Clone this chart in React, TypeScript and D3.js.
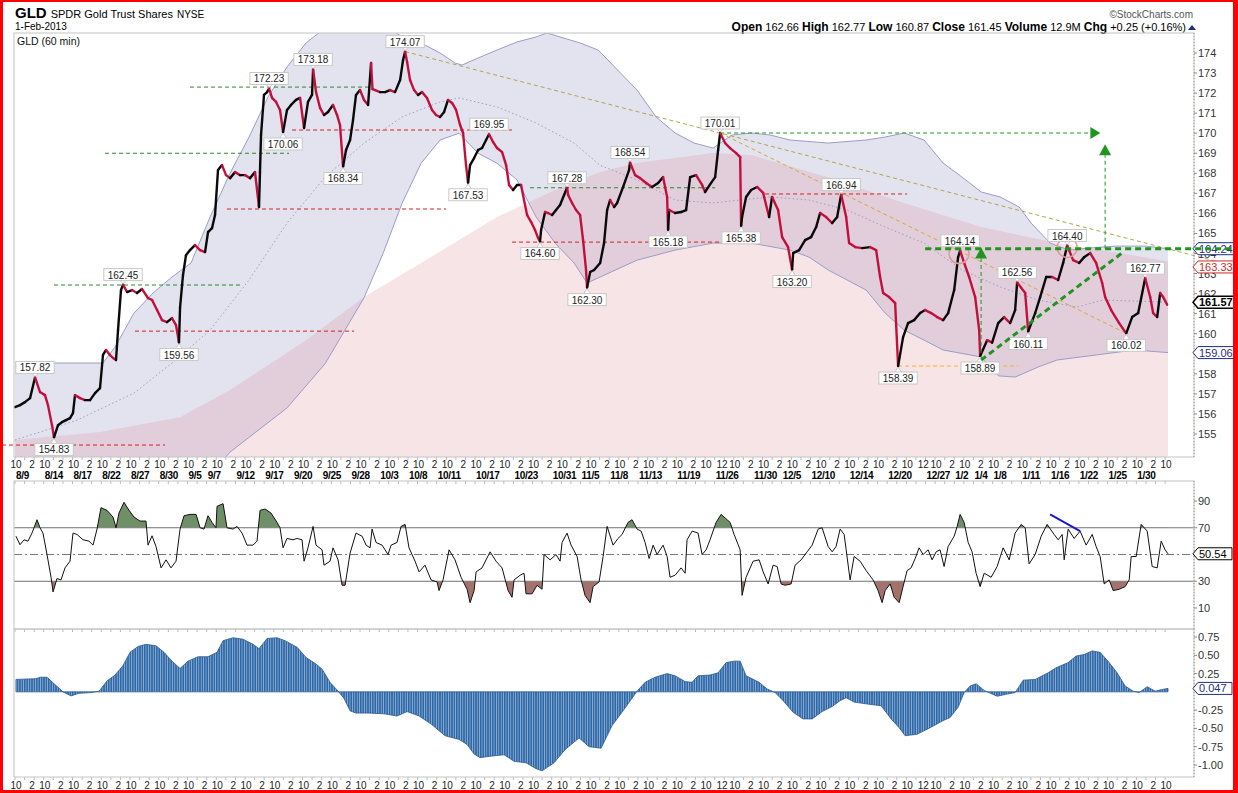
import * as d3 from "d3";

type Pt = [number, number]; // [trading day index, value]
type Pt3 = [number, number, number]; // [price, fromDay, toDay]

const FONT = "'Liberation Sans', Arial, sans-serif";

// ---- price (hourly closes, trading-day index) ----
const priceSeries: Pt[] = [
  [0, 156.34], [0.52, 156.44], [1.04, 156.59], [1.57, 156.79], [2.09, 157.82], [2.61, 157.09],
  [3.13, 156.94], [3.44, 156.44], [3.86, 155.44], [4.07, 154.83], [4.49, 155.44], [4.9, 155.59],
  [5.32, 155.69], [5.74, 155.79], [6.05, 156.04], [6.26, 156.94], [6.78, 156.79], [7.3, 156.69],
  [7.83, 156.69], [8.35, 157.04], [8.87, 157.29], [9.18, 158.94], [9.5, 159.19], [9.91, 158.94],
  [10.23, 158.79], [10.54, 158.69], [10.75, 160.18], [11.06, 162.18], [11.27, 162.45], [11.69, 162.08],
  [12.21, 162.18], [12.73, 162.03], [13.25, 162.23], [13.88, 161.78], [14.3, 161.68], [14.82, 161.18],
  [15.34, 160.68], [15.86, 160.58], [16.38, 160.78], [16.8, 160.43], [17.11, 159.56], [17.22, 161.3],
  [17.53, 162.93], [17.84, 163.92], [18.26, 164.17], [18.78, 164.42], [19.31, 164.17], [19.83, 164.07],
  [20.14, 165.07], [20.56, 165.27], [20.87, 165.92], [21.18, 168.16], [21.6, 168.41], [22.02, 167.91],
  [22.44, 167.76], [22.96, 168.06], [23.48, 167.91], [24, 167.91], [24.52, 167.76], [25.04, 168.06],
  [25.46, 166.32], [25.56, 168.06], [25.67, 169.91], [25.98, 171.91], [26.3, 172.05], [26.51, 172.23],
  [26.82, 171.76], [27.24, 171.56], [27.65, 171.16], [27.97, 170.06], [28.38, 171.16], [28.8, 171.41],
  [29.32, 171.66], [29.74, 171.76], [30.16, 170.26], [30.57, 171.56], [30.99, 171.91], [31.1, 173.18],
  [31.41, 172.05], [31.83, 171.26], [32.24, 170.91], [32.66, 171.06], [33.18, 171.41], [33.6, 170.91],
  [33.91, 170.41], [34.23, 168.34], [34.54, 169.16], [34.96, 169.66], [35.27, 170.66], [35.58, 171.91],
  [36, 172.15], [36.42, 171.66], [36.84, 171.41], [37.15, 173.5], [37.3, 172.2], [37.57, 172.15],
  [38.09, 172.05], [38.61, 172.05], [39.13, 172.15], [39.65, 172.05], [40.18, 172.65], [40.49, 173.65],
  [40.7, 174.07], [40.91, 173.55], [41.22, 172.65], [41.64, 172.15], [42.05, 171.91], [42.47, 172.05],
  [42.99, 171.76], [43.51, 171.16], [43.93, 170.91], [44.35, 170.81], [44.77, 171.06], [45.18, 171.66],
  [45.6, 171.51], [46.02, 171.16], [46.44, 170.41], [46.75, 170.01], [47.06, 168.41], [47.27, 167.53],
  [47.48, 168.41], [47.9, 168.76], [48.32, 169.16], [48.73, 169.26], [49.15, 169.66], [49.46, 169.95],
  [49.88, 169.56], [50.3, 169.26], [50.82, 169.06], [51.24, 168.41], [51.55, 167.42], [51.97, 167.17],
  [52.38, 167.42], [52.8, 167.42], [53.11, 166.67], [53.43, 165.92], [53.85, 165.57], [54.26, 165.17],
  [54.58, 164.77], [54.78, 164.6], [54.89, 165.17], [55.31, 166.07], [55.62, 166.02], [56.04, 165.92],
  [56.45, 166.17], [56.87, 166.42], [57.29, 166.92], [57.6, 167.28], [57.71, 166.92], [58.12, 166.52],
  [58.54, 166.17], [58.96, 165.92], [59.27, 164.67], [59.58, 163.18], [59.69, 162.3], [60.01, 163.08],
  [60.42, 163.18], [61.05, 163.53], [61.46, 164.52], [61.78, 166.17], [62.09, 166.67], [62.51, 166.32],
  [62.82, 166.52], [63.45, 167.32], [64.07, 168.16], [64.17, 168.54], [64.7, 167.91], [65.22, 167.76],
  [65.85, 167.52], [66.47, 167.32], [67.1, 167.52], [67.62, 167.81], [68.04, 166.82], [68.14, 165.18],
  [68.25, 166.17], [68.87, 166.02], [69.5, 166.07], [70.02, 166.17], [70.44, 167.81], [71.06, 167.91],
  [71.69, 167.42], [72, 167.07], [72.63, 167.52], [73.05, 167.81], [73.36, 169.16], [73.57, 170.01],
  [74.09, 169.51], [74.61, 169.26], [75.24, 169.01], [75.66, 168.81], [75.76, 165.38], [75.86, 165.82],
  [76.28, 166.82], [76.8, 167.17], [77.43, 167.32], [78.06, 167.02], [78.68, 165.82], [78.99, 166.82],
  [79.62, 166.17], [80.04, 164.82], [80.66, 164.32], [81.08, 163.2], [81.19, 164.02], [81.81, 164.17],
  [82.44, 164.67], [83.06, 164.82], [83.59, 165.32], [84, 166.02], [84.63, 165.82], [85.26, 165.52],
  [85.78, 165.82], [86.2, 166.94], [86.72, 165.82], [87.03, 164.52], [87.66, 164.32], [88.39, 164.27],
  [89.22, 164.32], [89.85, 164.17], [90.26, 162.83], [90.58, 162.03], [91.2, 161.83], [91.83, 161.53],
  [92.14, 158.39], [92.66, 159.83], [93.18, 160.53], [93.81, 160.68], [94.44, 161.03], [94.96, 161.18],
  [95.59, 161.03], [96.21, 160.83], [96.84, 160.68], [97.36, 161.03], [97.99, 162.18], [98.4, 163.82],
  [98.61, 164.14], [99.03, 163.53], [99.55, 162.83], [100.18, 161.83], [100.6, 160.18], [100.7, 158.89],
  [101.43, 159.68], [101.95, 159.56], [102.58, 160.53], [103.2, 160.83], [103.83, 160.53], [104.35, 161.18],
  [104.56, 162.56], [105.4, 162.03], [105.71, 160.11], [106.44, 161.03], [106.96, 161.83], [107.59, 162.83],
  [108.21, 162.83], [108.84, 162.68], [109.36, 163.53], [109.78, 164.4], [110.4, 163.67], [111.03, 163.53],
  [111.55, 163.82], [112.18, 164.02], [112.8, 163.53], [113.43, 162.53], [113.74, 161.83], [114.37, 161.18],
  [115.2, 160.53], [115.94, 160.02], [116.56, 160.83], [117.19, 161.03], [117.82, 162.53], [117.92, 162.77],
  [118.44, 161.83], [118.75, 161.03], [119.17, 160.83], [119.48, 162.03], [119.79, 161.83], [120.21, 161.45],
];

// ---- Bollinger bands (lavender) ----
const bbUpper: Pt[] = [
  [0, 158.54], [9.18, 158.54], [10.44, 159.34], [12.42, 161.03], [14.4, 162.03], [16.38, 162.83],
  [18.37, 163.53], [20.35, 165.82], [22.44, 168.01], [24.42, 169.81], [26.4, 171.81], [28.38, 173.3],
  [30.37, 174.5], [32.35, 175.25], [34.44, 175.65], [36.52, 175.75], [38.61, 175.4], [40.38, 174.8],
  [42.37, 174.5], [44.35, 174.0], [45.91, 173.5], [46.65, 173.4], [48.32, 173.75], [50.3, 174.15],
  [52.38, 174.55], [54.37, 174.8], [55.51, 175.0], [56.87, 174.8], [58.96, 174.5], [60.84, 174.15],
  [64.91, 172.15], [66.89, 170.81], [68.87, 170.01], [70.85, 169.51], [72.84, 169.26], [74.82, 169.91],
  [76.8, 170.01], [78.78, 169.91], [80.87, 169.66], [84.84, 169.51], [88.8, 169.66], [90.79, 169.81],
  [92.77, 170.01], [94.85, 169.66], [96.84, 168.51], [98.82, 167.81], [100.8, 167.07], [102.79, 166.82],
  [104.77, 166.32], [106.02, 165.52], [108.0, 164.52], [109.99, 164.17], [111.97, 164.27], [114.79, 164.37],
  [118.02, 164.37], [120.3, 164.24],
];
const bbLower: Pt[] = [
  [0, 153.6], [4.7, 153.2], [8.87, 152.6], [14.09, 152.0], [19.31, 152.4], [22.44, 154.1],
  [28.38, 156.3], [32.35, 158.5], [36.42, 161.8], [38.4, 164.0], [40.38, 166.5], [42.37, 168.5],
  [44.35, 169.66], [46.33, 170.0], [48.32, 169.0], [50.3, 168.5], [52.38, 167.67], [54.37, 165.82],
  [56.35, 164.52], [58.33, 163.53], [59.69, 162.53], [61.05, 162.83], [64.91, 163.67], [68.87, 164.17],
  [72.84, 164.52], [76.8, 164.52], [80.87, 164.17], [82.85, 163.82], [84.84, 163.18], [88.8, 162.18],
  [90.79, 161.03], [92.77, 160.18], [94.85, 159.68], [96.84, 159.19], [100.8, 158.84], [102.6, 157.9],
  [104.35, 157.84], [106.75, 158.34], [108.73, 158.69], [112.8, 158.94], [116.77, 159.19], [120.3, 159.06],
];
const bbMiddle: Pt[] = [
  [0, 154.7], [6.47, 155.69], [12.42, 157.04], [16.38, 158.54], [20.35, 160.18], [24.42, 162.68],
  [28.38, 165.52], [32.35, 167.81], [36.42, 169.51], [40.38, 170.81], [44.35, 171.56], [46.33, 171.76],
  [50.3, 171.31], [54.37, 170.51], [58.33, 169.51], [61.05, 168.4], [64.91, 167.67], [68.87, 166.67],
  [72.84, 166.52], [75.66, 166.67], [78.78, 166.82], [82.85, 166.67], [86.82, 166.17], [90.79, 165.32],
  [94.85, 164.52], [98.82, 163.18], [102.79, 162.33], [106.75, 161.68], [110.82, 161.33], [113.53, 161.68],
  [120.3, 161.57],
];
// ---- longer band top (pink fill) ----
const channelUpper: Pt[] = [
  [0, 154.7], [8.87, 155.1], [17.22, 155.84], [22.44, 157.19], [30.37, 159.68], [36.42, 161.83],
  [42.37, 163.53], [50.3, 165.82], [56.35, 167.17], [61.05, 168.06], [64.8, 168.51], [72.84, 169.01],
  [76.8, 168.91], [84.84, 167.81], [92.77, 166.52], [100.8, 165.32], [108.73, 164.52], [116.77, 163.9],
  [120.3, 163.6],
];

// ---- RSI ----
const rsiSeries: Pt[] = [
  [0.1, 63.7], [0.52, 57.3], [0.94, 61], [1.36, 60], [1.77, 66], [2.3, 76], [2.61, 70], [2.92, 66],
  [3.34, 50], [3.76, 33], [3.97, 22], [4.38, 32], [4.8, 31], [5.22, 40], [5.74, 45], [6.05, 66],
  [6.47, 65], [7.1, 61], [7.72, 60], [8.14, 57], [8.56, 69], [8.97, 85], [9.6, 83], [10.23, 78],
  [10.54, 70], [10.85, 81], [11.37, 89], [11.9, 83], [12.42, 78], [13.04, 75], [13.67, 75], [13.88, 57],
  [14.3, 64], [14.71, 56], [15.24, 40], [15.76, 46], [16.28, 40], [16.8, 45], [17.22, 69], [17.64, 79],
  [18.26, 80], [18.89, 80], [19.31, 70], [19.72, 69], [20.14, 79], [20.56, 74], [20.97, 70], [21.08, 86],
  [21.71, 88], [22.12, 70], [22.75, 69], [23.17, 71], [23.69, 66], [24.21, 57], [24.84, 57], [25.25, 60],
  [25.57, 83], [26.09, 84], [26.71, 81], [27.34, 74], [27.65, 70], [27.97, 55], [28.38, 62], [29.01, 61],
  [29.43, 62], [29.95, 61], [30.16, 45], [30.57, 55], [31.1, 71], [31.41, 57], [32.04, 53.5], [32.24, 42],
  [32.87, 45], [33.18, 55], [33.71, 46], [34.12, 27], [34.44, 27], [34.96, 51], [35.58, 66], [36.21, 63.7],
  [36.63, 57], [37.05, 55], [37.25, 69], [37.67, 59], [38.3, 57], [38.92, 50], [39.24, 57], [39.86, 59],
  [40.28, 71], [40.7, 72.5], [41.11, 55], [41.74, 45], [42.16, 37], [42.78, 42], [43.41, 31], [44.04, 29.5],
  [44.24, 23], [44.66, 31], [45.29, 53.5], [45.91, 46], [46.54, 33], [47.17, 24], [47.48, 14], [47.9, 23],
  [48.11, 37], [48.73, 40], [49.57, 52], [50.19, 45], [50.82, 40], [51.45, 23], [51.86, 18], [52.07, 31],
  [52.7, 34.5], [53.11, 36], [53.32, 20.6], [53.95, 20.6], [54.47, 27], [54.99, 24], [55.2, 50], [55.83, 46],
  [56.45, 50], [56.87, 45], [57.08, 59], [57.6, 66], [58.02, 57], [58.65, 48.5], [59.06, 31], [59.48, 19.4],
  [60.0, 14], [60.32, 26], [60.94, 29.5], [61.36, 48.5], [61.78, 71], [62.4, 57], [62.92, 62], [63.34, 65],
  [63.96, 74], [64.38, 76], [64.91, 69], [65.33, 67.5], [65.74, 59], [66.16, 47], [66.58, 57], [66.99, 50],
  [67.62, 57], [68.04, 48.5], [68.35, 33], [68.87, 34.5], [69.5, 40], [69.92, 36], [70.12, 61], [70.65, 67.5],
  [71.27, 66], [71.69, 50], [72.11, 53.5], [72.52, 61], [73.15, 74], [73.67, 80], [74.61, 74], [75.03, 65],
  [75.66, 53.5], [75.86, 19.4], [76.28, 33], [77.01, 45], [77.64, 46], [78.06, 37], [78.58, 28], [79.1, 42],
  [79.52, 41], [79.93, 28], [80.35, 27], [80.98, 28], [81.39, 42], [82.02, 46], [82.65, 52], [83.17, 57],
  [83.8, 69], [84.21, 70], [84.84, 56], [85.26, 52], [85.67, 56], [86.09, 69], [86.51, 65], [86.72, 53.5],
  [87.13, 31], [87.55, 48.5], [88.18, 45], [88.8, 38], [89.53, 31], [90.05, 23], [90.47, 14], [90.79, 23],
  [91.31, 28], [91.73, 18], [92.25, 14], [92.66, 26], [93.08, 38], [93.5, 40], [93.92, 47], [94.33, 55],
  [94.75, 50], [95.27, 53.5], [95.69, 46], [96.11, 52], [96.52, 53.5], [96.94, 41], [97.36, 56], [97.99, 63.7],
  [98.3, 71], [98.61, 80], [99.03, 74], [99.45, 59], [99.86, 52], [100.28, 36], [100.7, 26], [101.12, 36],
  [101.85, 33], [102.47, 41], [103.1, 55], [103.73, 46], [104.35, 66], [104.98, 72.5], [105.4, 70], [105.81, 43],
  [106.44, 50], [107.07, 63.7], [107.69, 72.5], [108.42, 65], [108.84, 61], [109.26, 65], [109.47, 46], [109.88, 69],
  [110.51, 62], [111.13, 67.5], [111.76, 57], [112.39, 65], [112.8, 56], [113.22, 48.5], [113.64, 28], [114.16, 31],
  [114.58, 23], [115.2, 24], [115.83, 26], [116.25, 31], [116.46, 48.5], [116.98, 48.5], [117.5, 72.5], [118.13, 67.5],
  [118.65, 41], [119.17, 40], [119.59, 60], [120.0, 53.5], [120.3, 50.54],
];
// blue divergence line drawn on the RSI
const rsiDivergence: Pt[] = [[108.0, 80], [111.13, 67.5]];

// ---- histogram (lower panel) ----
const histSeries: Pt[] = [
  [0.1, 0.17], [2.19, 0.18], [2.61, 0.2], [3.34, 0.2], [4.17, 0.1], [5.01, 0], [5.84, -0.055], [6.68, -0.02],
  [7.93, -0.01], [8.77, 0.01], [9.6, 0.15], [10.44, 0.23], [11.27, 0.36], [12.0, 0.54], [12.84, 0.62], [13.67, 0.65],
  [14.71, 0.63], [15.55, 0.54], [16.38, 0.42], [17.22, 0.32], [18.05, 0.42], [19.1, 0.48], [20.14, 0.48], [21.08, 0.54],
  [21.71, 0.7], [22.75, 0.74], [23.79, 0.72], [24.84, 0.65], [25.46, 0.59], [26.3, 0.73], [27.34, 0.74], [28.17, 0.7],
  [29.43, 0.61], [30.37, 0.47], [31.41, 0.38], [32.04, 0.31], [32.87, 0.13], [33.71, 0.01], [34.33, -0.09], [34.96, -0.26],
  [35.58, -0.29], [36.84, -0.29], [38.51, -0.3], [39.86, -0.33], [40.91, -0.27], [42.16, -0.33], [43.41, -0.44], [44.87, -0.6],
  [46.33, -0.65], [47.17, -0.72], [47.9, -0.85], [48.52, -0.9], [49.57, -0.88], [51.03, -0.86], [52.07, -0.95], [53.32, -0.97],
  [54.37, -1.05], [54.99, -1.08], [56.24, -0.97], [57.39, -0.79], [58.85, -0.63], [59.9, -0.75], [61.15, -0.77], [62.3, -0.46],
  [63.55, -0.24], [64.91, 0.01], [65.74, 0.13], [66.79, 0.2], [68.04, 0.25], [68.87, 0.22], [69.92, 0.14], [70.65, 0.13],
  [71.27, 0.22], [72.52, 0.23], [73.36, 0.26], [74.19, 0.4], [75.03, 0.42], [75.66, 0.42], [76.28, 0.22], [77.64, 0.13],
  [78.47, 0.04], [79.31, -0.01], [80.14, -0.12], [81.19, -0.28], [82.23, -0.37], [83.17, -0.37], [84.21, -0.27], [85.26, -0.2],
  [86.09, -0.12], [86.72, -0.08], [87.55, -0.14], [89.12, -0.17], [90.37, -0.19], [91.41, -0.37], [92.25, -0.49], [92.87, -0.6],
  [94.12, -0.58], [95.48, -0.49], [96.73, -0.4], [97.57, -0.35], [98.4, -0.21], [99.03, -0.01], [99.65, 0.08], [100.28, 0.11],
  [101.12, 0.02], [102.47, -0.06], [103.52, -0.03], [104.35, -0.01], [105.19, 0.16], [106.44, 0.17], [107.79, 0.26], [108.63, 0.33],
  [109.88, 0.4], [110.72, 0.49], [111.55, 0.51], [112.39, 0.56], [113.22, 0.54], [114.16, 0.4], [114.99, 0.26], [115.83, 0.08],
  [116.67, 0.01], [117.29, -0.01], [118.13, 0.07], [118.96, 0.01], [119.59, 0.03], [120.3, 0.047],
];

// ---- axis labels ----
const dateLabels = ["8/9", "8/14", "8/17", "8/22", "8/27", "8/30", "9/5", "9/7", "9/12", "9/17", "9/20", "9/25", "9/28",
  "10/3", "10/8", "10/11", "10/17", "10/23", "10/31", "11/5", "11/8", "11/13", "11/19", "11/26", "11/30", "12/5",
  "12/10", "12/14", "12/20", "12/27", "1/2", "1/4", "1/8", "1/11", "1/16", "1/22", "1/25", "1/30"];
const dateDays = [0, 3, 6, 9, 12, 15, 18, 20, 23, 26, 29, 32, 35, 38, 41, 44, 48, 52, 56, 59, 62, 65, 69, 73, 77, 80,
  83, 87, 91, 95, 98, 100, 102, 105, 108, 111, 114, 117];
const hourLabelStep = 3; // an hour label pair every three sessions
const halfDayIndexes = [24, 31]; // sessions whose afternoon label reads "12"
const priceTicks = d3.range(155, 175);
const rsiTicks = [10, 30, 70, 90];
const histTicks = [0.75, 0.5, 0.25, -0.25, -0.5, -0.75, -1.0];

// ---- annotations ----
const peakLabels: { day: number; price: number; up: boolean }[] = [
  { day: 2.09, price: 157.82, up: true }, { day: 4.07, price: 154.83, up: false },
  { day: 11.27, price: 162.45, up: true }, { day: 17.11, price: 159.56, up: false },
  { day: 26.51, price: 172.23, up: true }, { day: 27.97, price: 170.06, up: false },
  { day: 31.1, price: 173.18, up: true }, { day: 34.23, price: 168.34, up: false },
  { day: 40.7, price: 174.07, up: true }, { day: 49.46, price: 169.95, up: true },
  { day: 47.27, price: 167.53, up: false }, { day: 54.78, price: 164.6, up: false },
  { day: 57.6, price: 167.28, up: true }, { day: 59.69, price: 162.3, up: false },
  { day: 64.17, price: 168.54, up: true }, { day: 68.14, price: 165.18, up: false },
  { day: 73.57, price: 170.01, up: true }, { day: 75.76, price: 165.38, up: false },
  { day: 86.2, price: 166.94, up: true }, { day: 81.08, price: 163.2, up: false },
  { day: 98.61, price: 164.14, up: true }, { day: 92.14, price: 158.39, up: false },
  { day: 100.7, price: 158.89, up: false }, { day: 104.56, price: 162.56, up: true },
  { day: 105.71, price: 160.11, up: false }, { day: 109.78, price: 164.4, up: true },
  { day: 117.92, price: 162.77, up: true }, { day: 115.94, price: 160.02, up: false },
];
const greenLevels: Pt3[] = [[172.3, 18.26, 36.94], [169.0, 9.39, 28.59], [162.43, 4.07, 23.48], [167.28, 53.74, 73.05]];
const redLevels: Pt3[] = [[170.16, 28.91, 51.86], [166.22, 22.12, 44.98], [160.13, 12.52, 35.38], [154.45, -1.5, 15.65],
  [164.57, 51.86, 74.09], [166.97, 78.26, 93.08]];
const goldLevels: Pt3[] = [[158.39, 92.14, 104.66]];
const trendLines: { from: Pt; to: Pt; color: string }[] = [
  { from: [40.7, 174.07], to: [127.6, 163.33], color: "#b0a650" },
  { from: [73.57, 170.01], to: [115.94, 160.02], color: "#d9a640" },
];
const necklineLevel: Pt3 = [164.24, 94.96, 127.2];
const risingSupport: { from: Pt; to: Pt } = { from: [100.8, 158.69], to: [115.62, 164.07] };
const targetLevel: Pt3 = [170.01, 73.57, 112.2];
const projections: { day: number; from: number; to: number }[] = [
  { day: 100.8, from: 158.69, to: 163.75 },
  { day: 113.74, from: 164.24, to: 168.9 },
];
const circledPeaks: Pt[] = [[98.5, 164.0], [109.78, 164.3]];

const axisValues: { value: number; stroke: string; bold: boolean }[] = [
  { value: 164.24, stroke: "#1f2f7f", bold: false },
  { value: 163.33, stroke: "#cc2a2a", bold: false },
  { value: 161.57, stroke: "#000000", bold: true },
  { value: 159.06, stroke: "#1f2f7f", bold: false },
];
const rsiLast = 50.54;
const histLast = 0.047;

const L = 14, R = 1194;
const MAIN = { top: 33, bottom: 457 };
const RSI = { top: 481, bottom: 629 };
const HIST = { top: 629, bottom: 777 };

function PointerBox({ x0, y, text, stroke, bold }: { x0: number; y: number; text: string; stroke: string; bold?: boolean }) {
  const w = text.length * 6.2 + 8;
  const h = 12;
  const d = `M${x0},${y} L${x0 + 5},${y - h / 2} L${x0 + w},${y - h / 2} L${x0 + w},${y + h / 2} L${x0 + 5},${y + h / 2} Z`;
  return (
    <g>
      <path d={d} fill="#fff" stroke={stroke} strokeWidth={bold ? 1.5 : 1} />
      <text x={x0 + 6} y={y + 4} fontSize={11} fontWeight={bold ? "bold" : "normal"} fill={stroke === "#000000" ? "#000" : stroke}>{text}</text>
    </g>
  );
}

export default function App() {
  const x = d3.scaleLinear().domain([0, 120.3]).range([15, 1168]);
  const y = d3.scaleLinear().domain([155, 174]).range([434, 53]);
  const yR = d3.scaleLinear().domain([10, 90]).range([608, 501]);
  const yH = d3.scaleLinear().domain([-1, 0.75]).range([765, 637]);

  const line = (ys: d3.ScaleLinear<number, number>) => d3.line<Pt>().x((d) => x(d[0])).y((d) => ys(d[1]));

  // band polygon: upper forward, lower backward
  const bandPath =
    line(y)(bbUpper)! + "L" + [...bbLower].reverse().map((d) => `${x(d[0])},${y(d[1])}`).join("L") + "Z";
  const channelPath = d3.area<Pt>().x((d) => x(d[0])).y0(MAIN.bottom + 5).y1((d) => y(d[1]))(channelUpper)!;

  const rsiLine = line(yR)(rsiSeries)!;
  const rsiAreaOver = d3.area<Pt>().x((d) => x(d[0])).y0(yR(70)).y1((d) => yR(d[1]))(rsiSeries)!;
  const rsiAreaUnder = d3.area<Pt>().x((d) => x(d[0])).y0(yR(30)).y1((d) => yR(d[1]))(rsiSeries)!;
  const histArea = d3.area<Pt>().x((d) => x(d[0])).y0(yH(0)).y1((d) => yH(d[1]))(histSeries)!;

  const hourTicks: { day: number; text: string }[] = [];
  for (let k = 0; k * hourLabelStep <= 120; k++) {
    hourTicks.push({ day: k * hourLabelStep, text: "10" });
    if (k * hourLabelStep + 1.67 < 120)
      hourTicks.push({ day: k * hourLabelStep + 1.67, text: halfDayIndexes.includes(k) ? "12" : "2" });
  }
  const dayTicks = d3.range(0, 121);

  return (
    <svg width={1238} height={793} style={{ position: "absolute", left: 0, top: 0, background: "#fff" }} fontFamily={FONT}>
      <defs>
        <clipPath id="mainClip"><rect x={L} y={MAIN.top} width={R - L} height={MAIN.bottom - MAIN.top} /></clipPath>
        <clipPath id="rsiOver"><rect x={L} y={RSI.top} width={R - L} height={yR(70) - RSI.top} /></clipPath>
        <clipPath id="rsiUnder"><rect x={L} y={yR(30)} width={R - L} height={RSI.bottom - yR(30)} /></clipPath>
        <pattern id="stripes" width={2.4} height={10} patternUnits="userSpaceOnUse">
          <rect width={2.4} height={10} fill="#a9c3e3" />
          <rect width={1.75} height={10} fill="#2f68a6" />
        </pattern>
      </defs>

      {/* header */}
      <text x={15} y={18} fill="#000">
        <tspan fontWeight="bold" fontSize={15}>GLD</tspan>
        <tspan fontSize={11} dx={4}>SPDR Gold Trust Shares</tspan>
        <tspan fontSize={10} dx={4}>NYSE</tspan>
      </text>
      <text x={15} y={30} fontSize={10} fill="#000">1-Feb-2013</text>
      <text x={1193} y={18} fontSize={10} fill="#555" textAnchor="end">©StockCharts.com</text>
      <text x={1186} y={31} fontSize={11} fill="#000" textAnchor="end">
        <tspan fontWeight="bold" fontSize={12}>Open</tspan> 162.66 <tspan fontWeight="bold" fontSize={12}>High</tspan> 162.77{" "}
        <tspan fontWeight="bold" fontSize={12}>Low</tspan> 160.87 <tspan fontWeight="bold" fontSize={12}>Close</tspan> 161.45{" "}
        <tspan fontWeight="bold" fontSize={12}>Volume</tspan> 12.9M <tspan fontWeight="bold" fontSize={12}>Chg</tspan> +0.25 (+0.16%)
      </text>
      <path d="M1188,30 L1196,30 L1192,25 Z" fill="#1f2f7f" />

      {/* main panel */}
      <g clipPath="url(#mainClip)">
        <path d={bandPath} fill="#e3e3ef" />
        <path d={channelPath} fill="rgb(220,130,145)" fillOpacity={0.22} />
        <path d={line(y)(bbUpper)!} fill="none" stroke="#9c9cc8" strokeWidth={1} />
        <path d={line(y)(bbLower)!} fill="none" stroke="#9c9cc8" strokeWidth={1} />
        <path d={line(y)(bbMiddle)!} fill="none" stroke="#9c9cc8" strokeWidth={1} strokeDasharray="1.5,2.5" />
        {greenLevels.map((l, i) => (
          <line key={`g${i}`} x1={x(l[1])} x2={x(l[2])} y1={y(l[0])} y2={y(l[0])} stroke="#2a8a2a" strokeDasharray="4,3" />
        ))}
      </g>
      {redLevels.map((l, i) => (
        <line key={`r${i}`} x1={Math.max(2, x(l[1]))} x2={x(l[2])} y1={y(l[0])} y2={y(l[0])} stroke="#d42020" strokeDasharray="4,3" />
      ))}
      {goldLevels.map((l, i) => (
        <line key={`o${i}`} x1={x(l[1])} x2={x(l[2])} y1={y(l[0])} y2={y(l[0])} stroke="#f2b526" strokeDasharray="4,3" />
      ))}
      {trendLines.map((t, i) => (
        <line key={`t${i}`} x1={x(t.from[0])} y1={y(t.from[1])} x2={x(t.to[0])} y2={y(t.to[1])} stroke={t.color} strokeDasharray="4,3" />
      ))}

      {/* price bars */}
      <g clipPath="url(#mainClip)">
        {priceSeries.slice(1).map((b, i) => {
          const a = priceSeries[i];
          const up = b[1] >= a[1];
          return (
            <line key={i} x1={x(a[0])} y1={y(a[1])} x2={x(b[0])} y2={y(b[1])}
              stroke={up ? "#0a0a0a" : "#c2103e"} strokeWidth={2.4} strokeLinecap="round" />
          );
        })}
      </g>

      {/* target arrows and neckline */}
      <line x1={x(targetLevel[1])} x2={x(targetLevel[2])} y1={y(targetLevel[0])} y2={y(targetLevel[0])} stroke="#1f951f" strokeDasharray="4,3" />
      <path d={`M${x(targetLevel[2])},${y(targetLevel[0]) - 6} L${x(targetLevel[2]) + 10},${y(targetLevel[0])} L${x(targetLevel[2])},${y(targetLevel[0]) + 6} Z`} fill="#1f951f" />
      {projections.map((p, i) => (
        <g key={`p${i}`}>
          <line x1={x(p.day)} x2={x(p.day)} y1={y(p.from)} y2={y(p.to)} stroke="#1f951f" strokeDasharray="4,3" />
          <path d={`M${x(p.day) - 6},${y(p.to)} L${x(p.day) + 6},${y(p.to)} L${x(p.day)},${y(p.to) - 11} Z`} fill="#1f951f" />
        </g>
      ))}
      {circledPeaks.map((c, i) => (
        <circle key={`c${i}`} cx={x(c[0])} cy={y(c[1])} r={10} fill="none" stroke="#e09a9a" strokeWidth={1.5} />
      ))}

      {/* high / low labels */}
      {peakLabels.map((p, i) => {
        const cx = x(p.day);
        const py = y(p.price);
        const cy = p.up ? py - 10 : py + 12;
        const text = p.price.toFixed(2);
        const w = text.length * 5.4 + 6;
        return (
          <g key={`l${i}`}>
            <path d={p.up ? `M${cx - 4},${cy + 5} L${cx + 4},${cy + 5} L${cx},${py - 1} Z` : `M${cx - 4},${cy - 5} L${cx + 4},${cy - 5} L${cx},${py + 1} Z`} fill="#fff" stroke="#c8c8c8" />
            <rect x={cx - w / 2} y={cy - 6} width={w} height={12} fill="#fff" stroke="#c8c8c8" />
            <text x={cx} y={cy + 4} fontSize={10} textAnchor="middle" fill="#222">{text}</text>
          </g>
        );
      })}

      {/* main frame & right axis */}
      <rect x={L} y={MAIN.top} width={R - L} height={MAIN.bottom - MAIN.top} fill="none" stroke="#c4c4c4" />
      <text x={17} y={45} fontSize={10.5} fill="#111">GLD (60 min)</text>
      <line x1={R} x2={R} y1={MAIN.top} y2={MAIN.bottom} stroke="#999" strokeDasharray="1,2" />
      {priceTicks.map((t) => (
        <g key={`pt${t}`}>
          <line x1={R} x2={R + 3} y1={y(t)} y2={y(t)} stroke="#888" />
          <text x={R + 4} y={y(t) + 4} fontSize={11} fill="#333">{t}</text>
        </g>
      ))}
      {axisValues.map((v) => (
        <PointerBox key={v.value} x0={R - 1} y={y(v.value)} text={v.value.toFixed(2)} stroke={v.stroke} bold={v.bold} />
      ))}

      {/* neckline and rising support (thick) */}
      <line x1={x(necklineLevel[1])} x2={x(necklineLevel[2])} y1={y(necklineLevel[0])} y2={y(necklineLevel[0])} stroke="#1f951f" strokeWidth={3} strokeDasharray="6,4" />
      <line x1={x(risingSupport.from[0])} y1={y(risingSupport.from[1])} x2={x(risingSupport.to[0])} y2={y(risingSupport.to[1])} stroke="#1f951f" strokeWidth={3} strokeDasharray="6,4" />

      {/* date axis */}
      {dayTicks.map((d) => (
        <g key={`dt${d}`}>
          <line x1={x(d)} x2={x(d)} y1={MAIN.bottom} y2={MAIN.bottom + 3} stroke="#bbb" />
          <line x1={x(d)} x2={x(d)} y1={RSI.top} y2={RSI.top + 3} stroke="#bbb" />
          <line x1={x(d)} x2={x(d)} y1={HIST.top} y2={HIST.top + 3} stroke="#bbb" />
          <line x1={x(d)} x2={x(d)} y1={HIST.bottom} y2={HIST.bottom + 3} stroke="#bbb" />
        </g>
      ))}
      {hourTicks.map((h, i) => (
        <g key={`h${i}`}>
          <text x={x(h.day) + 1} y={468} fontSize={10} textAnchor="middle" fill="#222">{h.text}</text>
          <text x={x(h.day) + 1} y={789} fontSize={10} textAnchor="middle" fill="#222">{h.text}</text>
        </g>
      ))}
      {dateLabels.map((t, i) => (
        <text key={t} x={x(dateDays[i]) + 1} y={479} fontSize={10} fontWeight="bold" fill="#000" letterSpacing={-0.3}>{t}</text>
      ))}

      {/* RSI panel */}
      <g clipPath="url(#rsiOver)"><path d={rsiAreaOver} fill="#6f8f66" /></g>
      <g clipPath="url(#rsiUnder)"><path d={rsiAreaUnder} fill="#a4726c" /></g>
      <line x1={L} x2={R} y1={yR(70)} y2={yR(70)} stroke="#777" />
      <line x1={L} x2={R} y1={yR(30)} y2={yR(30)} stroke="#777" />
      <line x1={L} x2={R} y1={yR(50)} y2={yR(50)} stroke="#777" strokeDasharray="8,3,2,3" />
      <path d={rsiLine} fill="none" stroke="#111" strokeWidth={1} />
      <path d={line(yR)(rsiDivergence)!} stroke="#1a1acc" strokeWidth={2} />
      <rect x={L} y={RSI.top} width={R - L} height={RSI.bottom - RSI.top} fill="none" stroke="#c4c4c4" />
      <line x1={R} x2={R} y1={RSI.top} y2={RSI.bottom} stroke="#999" strokeDasharray="1,2" />
      {rsiTicks.map((t) => (
        <g key={`rt${t}`}>
          <line x1={R} x2={R + 3} y1={yR(t)} y2={yR(t)} stroke="#888" />
          <text x={R + 4} y={yR(t) + 4} fontSize={11} fill="#333">{t}</text>
        </g>
      ))}
      <PointerBox x0={R - 1} y={yR(rsiLast)} text={rsiLast.toFixed(2)} stroke="#000000" />

      {/* histogram panel */}
      <path d={histArea} fill="url(#stripes)" stroke="#2a5a90" strokeWidth={0.8} />
      <rect x={L} y={HIST.top} width={R - L} height={HIST.bottom - HIST.top} fill="none" stroke="#c4c4c4" />
      <line x1={R} x2={R} y1={HIST.top} y2={HIST.bottom} stroke="#999" strokeDasharray="1,2" />
      {histTicks.map((t) => (
        <g key={`ht${t}`}>
          <line x1={R} x2={R + 3} y1={yH(t)} y2={yH(t)} stroke="#888" />
          <text x={R + 4} y={yH(t) + 4} fontSize={11} fill="#333">{t.toFixed(2)}</text>
        </g>
      ))}
      <PointerBox x0={R - 1} y={yH(histLast)} text={histLast.toFixed(3)} stroke="#1f2f7f" />

      {/* outer red frame */}
      <rect x={0} y={0} width={1238} height={2} fill="#ff0000" />
      <rect x={0} y={0} width={3} height={793} fill="#ff0000" />
      <rect x={1233} y={0} width={5} height={793} fill="#ff0000" />
      <rect x={0} y={790} width={1238} height={3} fill="#ff0000" />
    </svg>
  );
}
